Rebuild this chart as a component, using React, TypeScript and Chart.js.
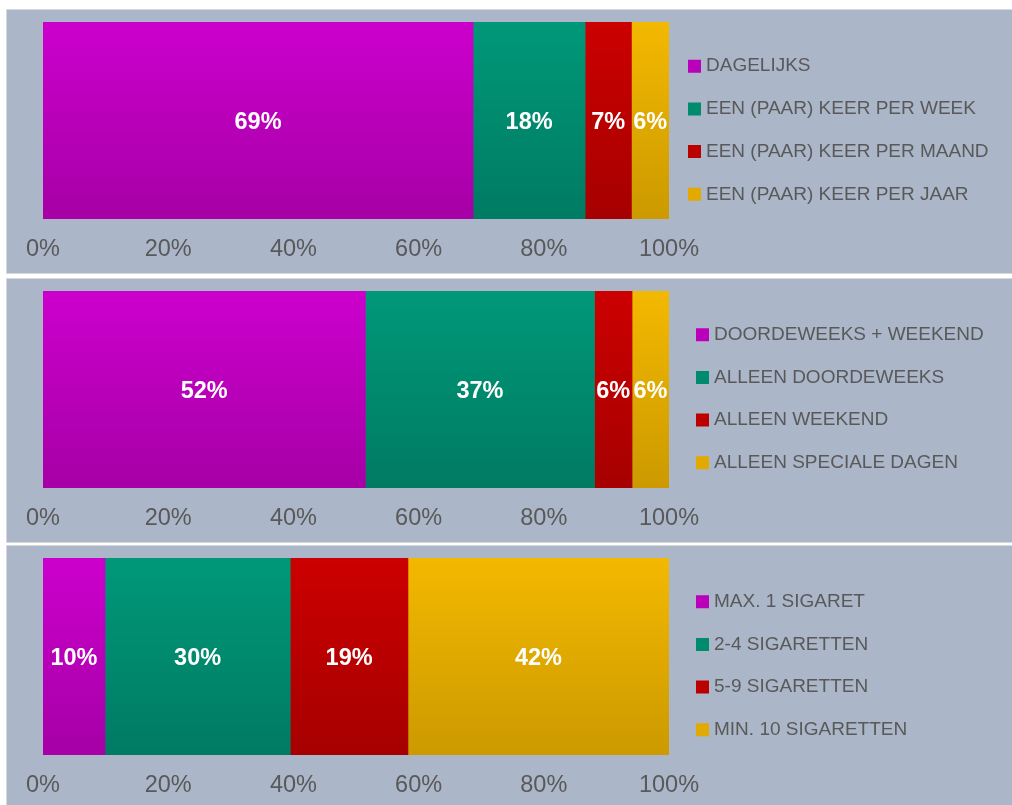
import React, { useEffect, useRef } from 'react';
import { Chart, registerables } from 'chart.js';

Chart.register(...registerables);

// ---------- data ----------
const tickValues = [0, 20, 40, 60, 80, 100];

const frequencyLabels = ['DAGELIJKS', 'EEN (PAAR) KEER PER WEEK', 'EEN (PAAR) KEER PER MAAND', 'EEN (PAAR) KEER PER JAAR'];
const frequencyValues = [68.7, 17.9, 7.4, 6.0];

const dayLabels = ['DOORDEWEEKS + WEEKEND', 'ALLEEN DOORDEWEEKS', 'ALLEEN WEEKEND', 'ALLEEN SPECIALE DAGEN'];
const dayValues = [51.5, 36.6, 6.0, 5.9];

const amountLabels = ['MAX. 1 SIGARET', '2-4 SIGARETTEN', '5-9 SIGARETTEN', 'MIN. 10 SIGARETTEN'];
const amountValues = [9.9, 29.6, 18.8, 41.7];

const seriesTopColors = ['#cc00cc', '#009878', '#cc0000', '#f3b800'];
const seriesBottomColors = ['#a600a6', '#007b63', '#a60000', '#cc9a00'];
const seriesLegendColors = ['#bb00bb', '#008a6e', '#bb0000', '#e2a900'];

const PANEL_BG = '#abb6c8';
const TEXT_GREY = '#595959';
const FONT = 'Arial, "Liberation Sans", sans-serif';

const CANVAS_W = 1005;
const AREA_LEFT = 36;
const AREA_TOP = 12;
const AREA_BOTTOM = 209;
const AREA_RIGHT = 662;
const LEGEND_TEXT_SHIFT = -4.5;

type PanelProps = {
  labels: string[];
  values: number[];
  top: number;
  height: number;
  legendDx: number;
  legendDy: number;
};

function Panel({ labels, values, top, height, legendDx, legendDy }: PanelProps) {
  const ref = useRef<HTMLCanvasElement>(null);

  useEffect(() => {
    const canvas = ref.current;
    if (!canvas) return;

    const legendPatch = {
      id: 'legendPatch',
      afterInit(chart: any) {
        const lg = chart.legend;
        if (!lg) return;
        const fit = lg.fit.bind(lg);
        lg.fit = () => {
          fit();
          lg.width = CANVAS_W - AREA_RIGHT;
        };
        const draw = lg.draw.bind(lg);
        lg.draw = (...args: any[]) => {
          const ctx = chart.ctx;
          const origFill = ctx.fillText;
          ctx.fillText = function (t: string, x: number, y: number, m?: number) {
            return m === undefined
              ? origFill.call(this, t, x + LEGEND_TEXT_SHIFT, y)
              : origFill.call(this, t, x + LEGEND_TEXT_SHIFT, y, m);
          };
          ctx.save();
          ctx.translate(legendDx, legendDy);
          try {
            draw(...args);
          } finally {
            ctx.restore();
            ctx.fillText = origFill;
          }
        };
      },
    };

    const valueLabels = {
      id: 'valueLabels',
      afterDatasetsDraw(chart: any) {
        const ctx = chart.ctx;
        ctx.save();
        ctx.font = `bold 23.5px ${FONT}`;
        ctx.fillStyle = '#ffffff';
        ctx.textAlign = 'center';
        ctx.textBaseline = 'middle';
        chart.data.datasets.forEach((ds: any, i: number) => {
          const meta = chart.getDatasetMeta(i);
          meta.data.forEach((el: any, j: number) => {
            const p = el.getCenterPoint();
            ctx.fillText(Math.round(ds.data[j]) + '%', p.x, p.y + 2);
          });
        });
        ctx.restore();
      },
    };

    const datasets = labels.map((label, i) => ({
      label,
      data: [values[i]],
      backgroundColor: (c: any) => {
        const area = c.chart.chartArea;
        if (!area) return seriesTopColors[i];
        const g = c.chart.ctx.createLinearGradient(0, area.top, 0, area.bottom);
        g.addColorStop(0, seriesTopColors[i]);
        g.addColorStop(1, seriesBottomColors[i]);
        return g;
      },
      borderWidth: 0,
      barPercentage: 1,
      categoryPercentage: 1,
    }));

    const chart = new Chart(canvas, {
      type: 'bar',
      data: { labels: [''], datasets },
      options: {
        indexAxis: 'y',
        responsive: false,
        animation: false,
        events: [],
        layout: { padding: { left: AREA_LEFT, top: AREA_TOP, right: 0, bottom: 0 } },
        scales: {
          x: {
            type: 'linear',
            stacked: true,
            min: 0,
            max: 100,
            afterBuildTicks: (s: any) => {
              s.ticks = tickValues.map((v) => ({ value: v }));
            },
            afterFit: (s: any) => {
              s.height = height - AREA_BOTTOM;
            },
            ticks: {
              callback: (v: any) => v + '%',
              color: TEXT_GREY,
              font: { size: 23.5, family: FONT, lineHeight: 1 },
              padding: 19,
              maxRotation: 0,
              autoSkip: false,
            },
            grid: { display: false, drawTicks: false },
            border: { display: false },
          },
          y: { type: 'category', stacked: true, display: false },
        },
        plugins: {
          tooltip: { enabled: false },
          legend: {
            position: 'right',
            align: 'start',
            labels: {
              boxWidth: 13,
              boxHeight: 13,
              padding: 23.7,
              color: TEXT_GREY,
              font: { size: 19, family: FONT },
              generateLabels: (ch: any) =>
                ch.data.datasets.map((ds: any, i: number) => ({
                  text: ds.label,
                  fillStyle: seriesLegendColors[i],
                  strokeStyle: seriesLegendColors[i],
                  lineWidth: 0,
                  hidden: false,
                  datasetIndex: i,
                  fontColor: TEXT_GREY,
                })),
            },
          },
        },
      } as any,
      plugins: [legendPatch, valueLabels],
    });

    return () => chart.destroy();
  }, [labels, values, top, height, legendDx, legendDy]);

  return (
    <div
      style={{
        position: 'absolute',
        left: 7,
        top,
        width: CANVAS_W,
        height,
        background: PANEL_BG,
        boxShadow: '0 0 0 1px #d5d8dd',
      }}
    >
      <canvas ref={ref} width={CANVAS_W} height={height} style={{ display: 'block' }} />
    </div>
  );
}

export default function App() {
  return (
    <div
      style={{
        position: 'absolute',
        left: 0,
        top: 0,
        width: 1012,
        height: 805,
        background: '#ffffff',
        overflow: 'hidden',
      }}
    >
      <Panel labels={frequencyLabels} values={frequencyValues} top={10} height={263} legendDx={-4.7} legendDy={11} />
      <Panel labels={dayLabels} values={dayValues} top={279} height={263} legendDx={3.3} legendDy={10.5} />
      <Panel labels={amountLabels} values={amountValues} top={546} height={259} legendDx={3.3} legendDy={10.5} />
    </div>
  );
}
